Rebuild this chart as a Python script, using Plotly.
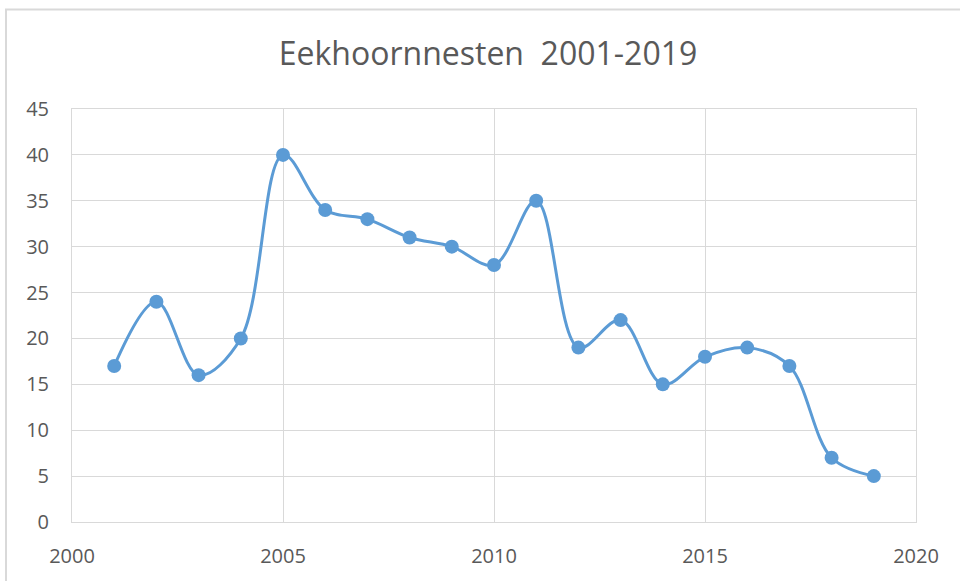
import plotly.graph_objects as go

years = [2001, 2002, 2003, 2004, 2005, 2006, 2007, 2008, 2009, 2010,
         2011, 2012, 2013, 2014, 2015, 2016, 2017, 2018, 2019]
nests = [17, 24, 16, 20, 40, 34, 33, 31, 30, 28,
         35, 19, 22, 15, 18, 19, 17, 7, 5]
title_text = "Eekhoornnesten  2001-2019"
x_ticks = [2000, 2005, 2010, 2015, 2020]
y_ticks = [0, 5, 10, 15, 20, 25, 30, 35, 40, 45]

FONT = "'Open Sans', 'Noto Sans', sans-serif"
GRAY = "#595959"
GRID = "#d9d9d9"

fig = go.Figure()
fig.add_trace(go.Scatter(
    x=years, y=nests, mode="lines+markers",
    line=dict(color="#5B9BD5", width=3, shape="spline", smoothing=1),
    marker=dict(color="#5B9BD5", size=14),
    showlegend=False,
))

W, H = 960, 581
L, R, T, B = 72, 44, 109, 57
pw, ph = W - L - R, H - T - B

def px_to_paper_x(px):
    return (px - L) / pw

def px_to_paper_y(py):
    return (H - B - py) / ph

fig.add_shape(type="rect", xref="paper", yref="paper",
              x0=px_to_paper_x(6), x1=px_to_paper_x(975),
              y0=px_to_paper_y(600), y1=px_to_paper_y(9),
              line=dict(color=GRID, width=2), layer="below")

fig.update_layout(
    width=W, height=H,
    margin=dict(l=L, r=R, t=T, b=B),
    paper_bgcolor="white", plot_bgcolor="white",
    font=dict(family=FONT, color=GRAY, size=20),
    title=dict(text=title_text, x=488 / W, xanchor="center",
               y=1 - 54 / H, yanchor="middle",
               font=dict(size=32, color=GRAY, family=FONT)),
    xaxis=dict(range=[2000, 2020], tickvals=x_ticks,
               showgrid=True, gridcolor=GRID, gridwidth=1,
               showline=True, linecolor=GRID, linewidth=1, mirror=True,
               zeroline=False, ticks="", ticklabelstandoff=16),
    yaxis=dict(range=[0, 45], tickvals=y_ticks,
               showgrid=True, gridcolor=GRID, gridwidth=1,
               showline=True, linecolor=GRID, linewidth=1, mirror=True,
               zeroline=False, ticks="", ticklabelstandoff=18),
)

fig.write_html("out.html", config={"displayModeBar": False},
               post_script="document.body.style.margin='0';document.body.style.overflow='hidden';")
